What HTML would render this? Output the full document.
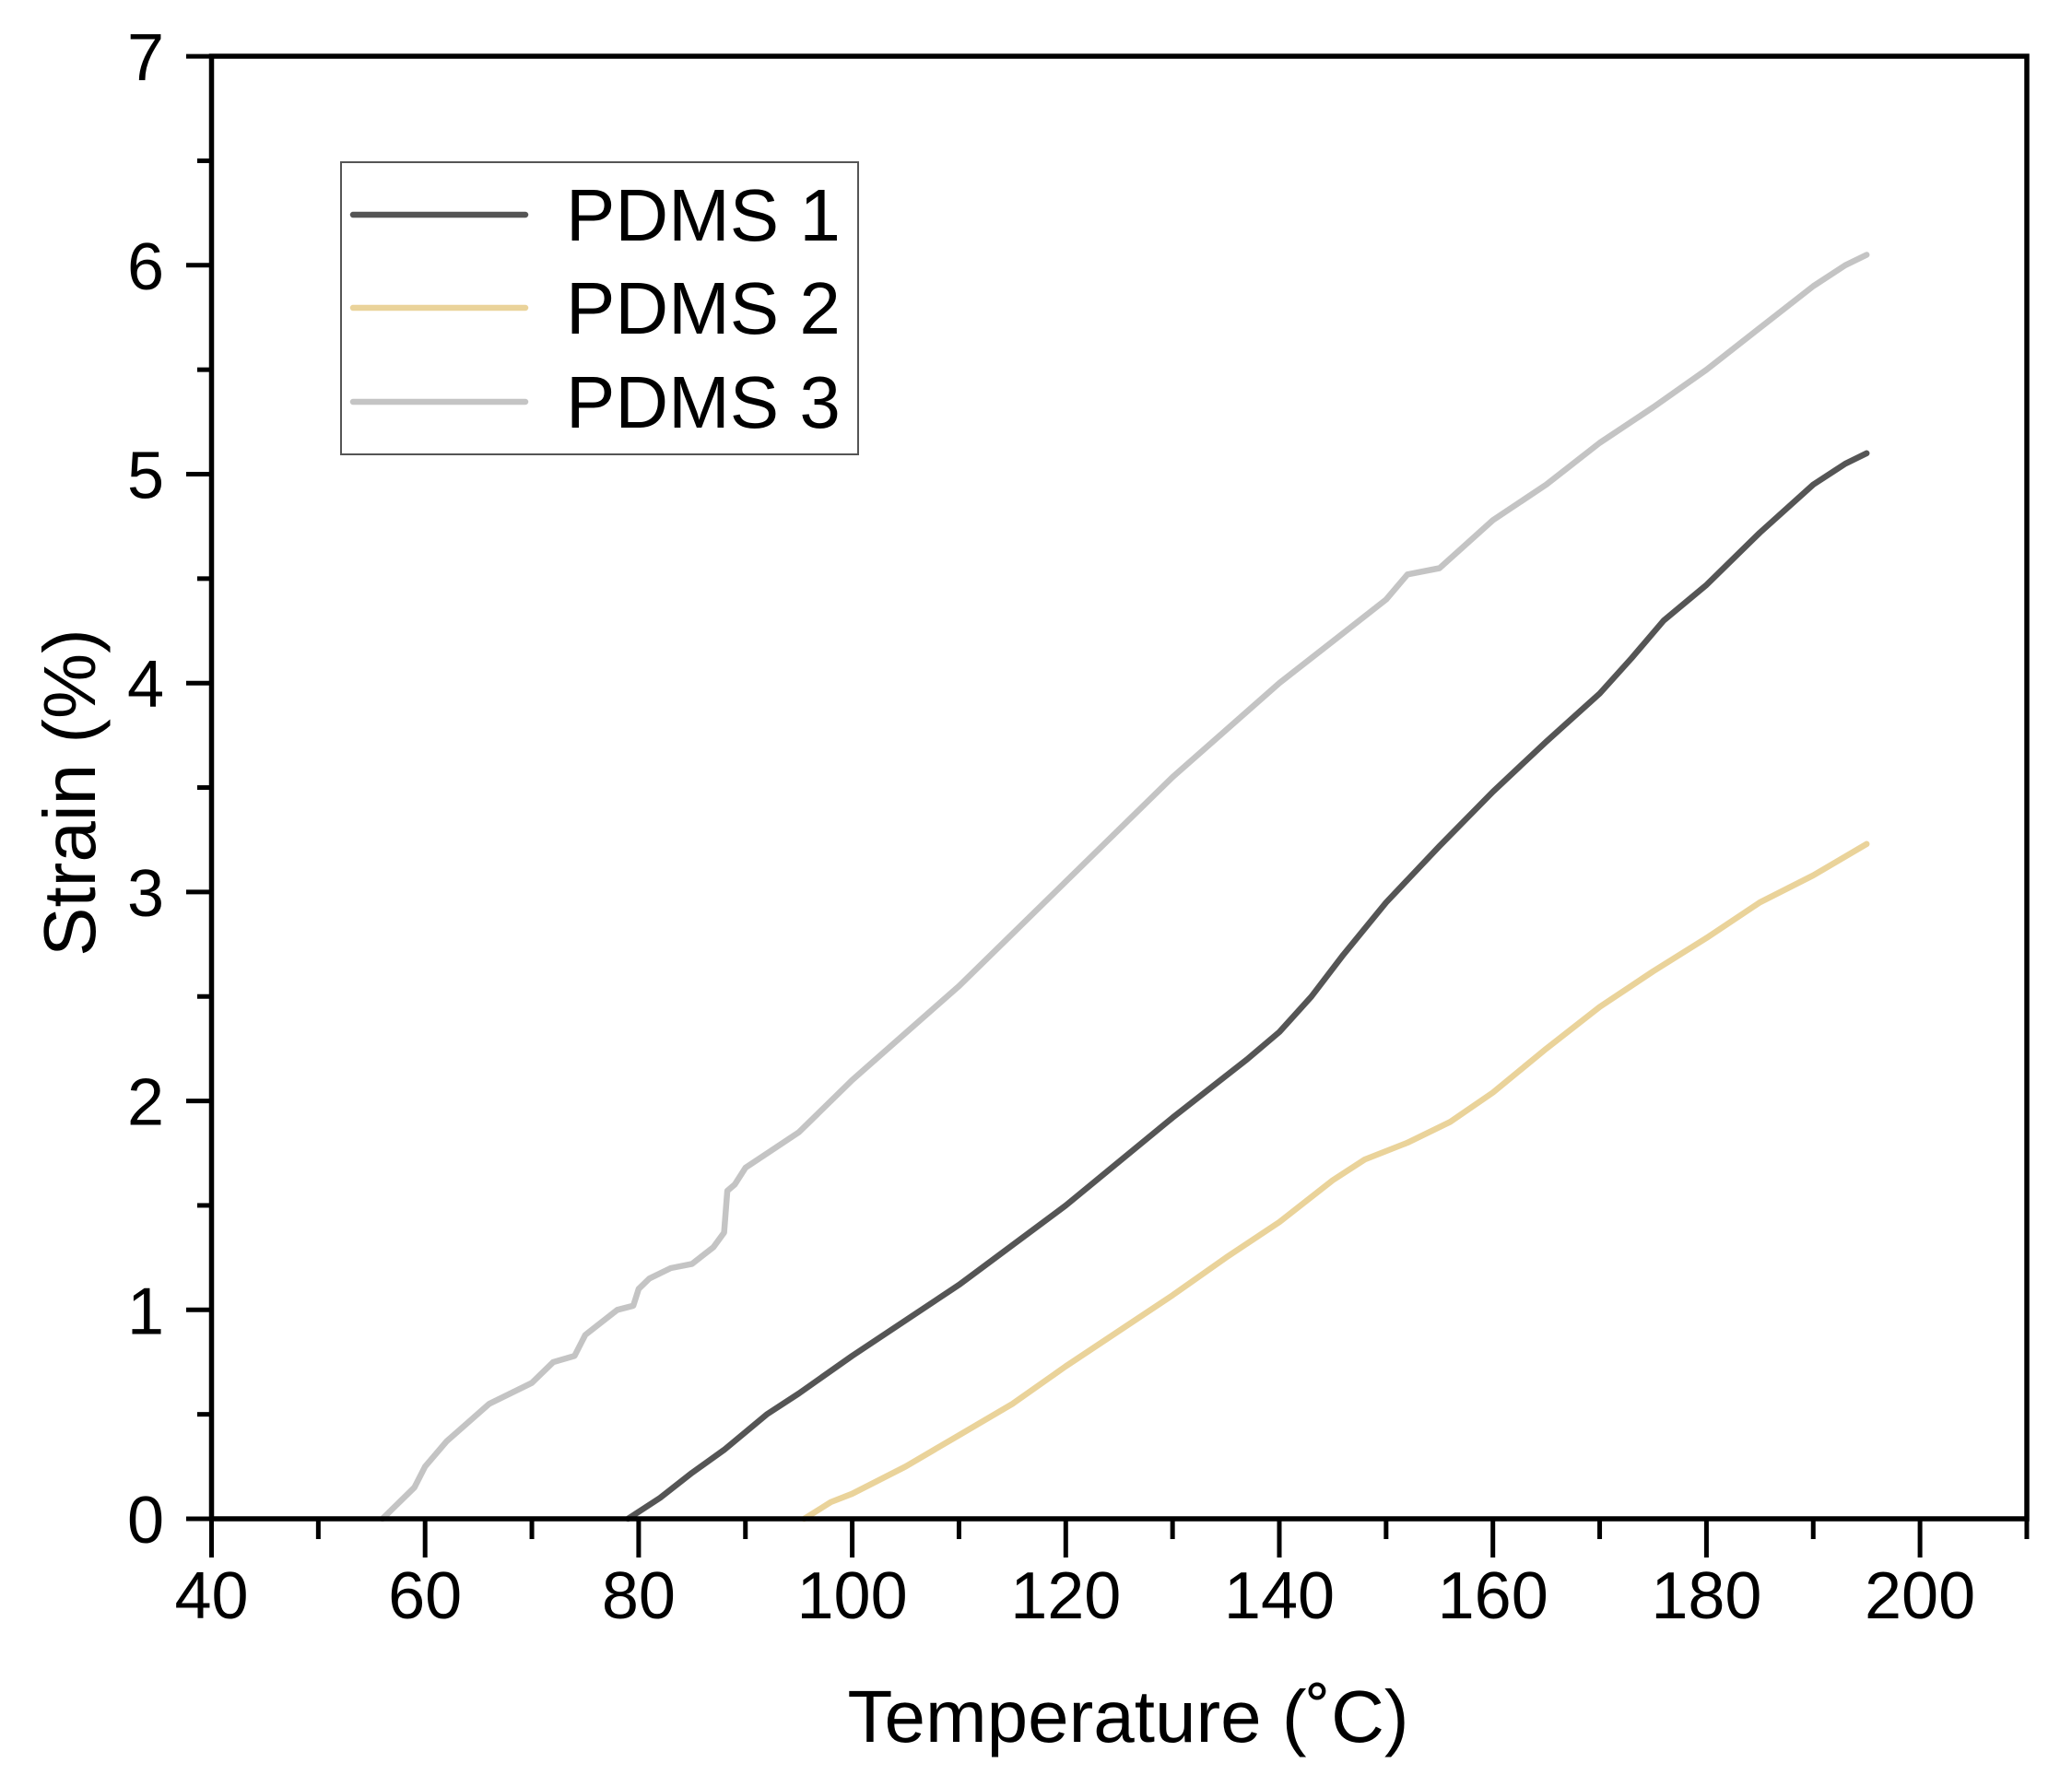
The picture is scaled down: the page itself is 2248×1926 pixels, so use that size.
<!DOCTYPE html>
<html><head><meta charset="utf-8"><style>
html,body{margin:0;padding:0;background:#fff;}
svg{display:block;}
text{font-family:"Liberation Sans",Arial,sans-serif;fill:#000;}
</style></head><body>
<svg id="s" width="2248" height="1926" viewBox="0 0 2248 1926" xmlns="http://www.w3.org/2000/svg">
<rect width="2248" height="1926" fill="#fff"/>
<g id="ticks" stroke="#000" stroke-width="5"></g>
<g id="series" fill="none" stroke-width="6.5" stroke-linejoin="round" stroke-linecap="round"></g>
<rect x="229.5" y="61" width="1969.5" height="1587" fill="none" stroke="#000" stroke-width="5.5"/>
<g id="labels" font-size="72"></g>
<text x="1224" y="1890" font-size="80" text-anchor="middle">Temperature (˚C)</text>
<text transform="translate(103,860) rotate(-90)" font-size="80" text-anchor="middle">Strain (%)</text>
<rect x="370" y="176" width="561" height="317" fill="#fff" stroke="#555" stroke-width="2"/>
<line x1="383" y1="233" x2="570" y2="233" stroke="#555" stroke-width="6.5" stroke-linecap="round"/>
<line x1="383" y1="334" x2="570" y2="334" stroke="#ead39a" stroke-width="6.5" stroke-linecap="round"/>
<line x1="383" y1="436" x2="570" y2="436" stroke="#c4c4c4" stroke-width="6.5" stroke-linecap="round"/>
<text x="614" y="261" font-size="80">PDMS 1</text>
<text x="614" y="362" font-size="80">PDMS 2</text>
<text x="614" y="464" font-size="80">PDMS 3</text>
</svg>
<script>
var NS="http://www.w3.org/2000/svg";
function X(t){return 229.5+(t-40)*11.585;}
function Y(s){return 1648-226.7*s;}
function el(p,n,a,txt){var e=document.createElementNS(NS,n);for(var k in a)e.setAttribute(k,a[k]);if(txt!==undefined)e.textContent=txt;document.getElementById(p).appendChild(e);}
for(var t=40;t<=210;t+=10){var maj=(t%20==0);el("ticks","line",{x1:X(t),y1:1648,x2:X(t),y2:maj?1690:1670});
 if(maj&&t<=200)el("labels","text",{x:X(t),y:1756,"text-anchor":"middle"},String(t));}
for(var s=0;s<=7;s+=0.5){var maj=(s%1==0);el("ticks","line",{x1:maj?202:214,y1:Y(s),x2:229.5,y2:Y(s)});
 if(maj)el("labels","text",{x:178,y:Y(s)+26,"text-anchor":"end"},String(s));}
var d3=[[56,0],[57,0.05],[59,0.15],[60,0.25],[62,0.37],[66,0.55],[70,0.65],[72,0.75],[74,0.78],[75,0.88],[78,1.0],[79.5,1.02],[80,1.1],[81,1.15],[83,1.2],[85,1.22],[87,1.3],[88,1.37],[88.3,1.57],[89,1.6],[90,1.68],[95,1.85],[100,2.1],[110,2.55],[120,3.05],[130,3.55],[140,4.0],[145,4.2],[150,4.4],[152,4.52],[155,4.55],[160,4.78],[165,4.95],[170,5.15],[175,5.32],[180,5.5],[185,5.7],[190,5.9],[193,6.0],[195,6.05]];
var d1=[[79,0],[82,0.1],[85,0.22],[88,0.33],[92,0.5],[95,0.6],[100,0.78],[110,1.12],[120,1.5],[130,1.92],[137,2.2],[140,2.33],[143,2.5],[146,2.7],[150,2.95],[155,3.22],[160,3.48],[165,3.72],[170,3.95],[173,4.12],[176,4.3],[180,4.47],[185,4.72],[190,4.95],[193,5.05],[195,5.1]];
var d2=[[95.5,0],[98,0.08],[100,0.12],[105,0.25],[110,0.4],[115,0.55],[120,0.73],[125,0.9],[130,1.07],[135,1.25],[140,1.42],[145,1.62],[148,1.72],[152,1.8],[156,1.9],[160,2.04],[165,2.25],[170,2.45],[175,2.62],[180,2.78],[185,2.95],[190,3.08],[195,3.23]];
function pl(d,c){el("series","polyline",{points:d.map(function(p){return X(p[0]).toFixed(1)+","+Y(p[1]).toFixed(1);}).join(" "),stroke:c});}
pl(d3,"#c4c4c4");pl(d2,"#ead39a");pl(d1,"#555555");
</script>
</body></html>
